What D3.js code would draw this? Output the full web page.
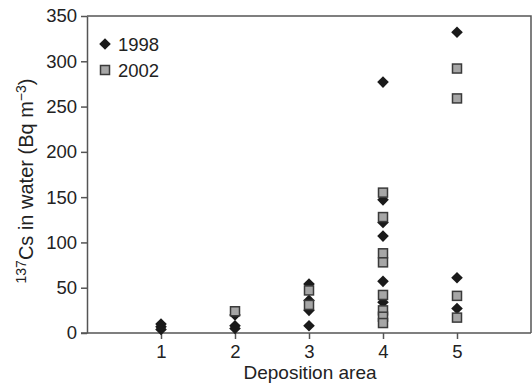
<!DOCTYPE html>
<html>
<head>
<meta charset="utf-8">
<script src="https://cdn.jsdelivr.net/npm/d3@7"></script>
<style>
  body { margin: 0; background: #fff; }
  svg text { font-family: "Liberation Sans", Arial, sans-serif; fill: #222; }
</style>
</head>
<body>
<svg id="graphsvg" width="532" height="387"></svg>
<script>
// area, value pairs
var areas = [1, 2, 3, 4, 5];
var series = ["1998", "2002"];
var area1998 = [1, 1, 1, 2, 2, 2, 3, 3, 3, 3, 4, 4, 4, 4, 4, 4, 5, 5, 5];
var val1998 = [10, 7, 4, 20, 8, 5, 54, 36, 25, 8, 277, 147, 122, 107, 57, 34, 332, 61, 27];
var area2002 = [2, 3, 3, 4, 4, 4, 4, 4, 4, 4, 4, 5, 5, 5, 5];
var val2002 = [24, 47, 31, 155, 128, 88, 78, 42, 25, 18, 11, 292, 259, 41, 17];
var yTicks = [0, 50, 100, 150, 200, 250, 300, 350];

var svg = d3.select("#graphsvg"),
    margin = {top: 16, right: 1, bottom: 54, left: 87},
    width = 532 - margin.left - margin.right,
    height = 387 - margin.top - margin.bottom;

var x = d3.scaleLinear().domain([0, 6]).range([0, width]);
var y = d3.scaleLinear().domain([0, 350]).range([height, 0]);

var g = svg.append("g")
    .attr("transform", "translate(" + margin.left + "," + margin.top + ")");

var axisColor = "#555";

// frame top + right
g.append("path")
    .attr("d", "M0,0H" + width + "V" + height)
    .attr("fill", "none")
    .attr("stroke", axisColor)
    .attr("stroke-width", 1.5);

var xAxis = g.append("g")
    .attr("transform", "translate(0," + height + ")")
    .call(d3.axisBottom(x).tickValues(areas).tickFormat(d3.format("d"))
      .tickSize(6).tickSizeOuter(0).tickPadding(6));

var yAxis = g.append("g")
    .call(d3.axisLeft(y).tickValues(yTicks).tickSize(6).tickSizeOuter(0).tickPadding(4));

[xAxis, yAxis].forEach(function(a) {
  a.select(".domain").attr("stroke", axisColor).attr("stroke-width", 1.5);
  a.selectAll(".tick line").attr("stroke", axisColor).attr("stroke-width", 1.5);
  a.selectAll(".tick text").attr("font-size", 18.5).attr("fill", "#222")
    .style("font-family", "'Liberation Sans', Arial, sans-serif");
});
// x axis line reaches past the y axis like the tick
xAxis.select(".domain").attr("d", "M-6,0H" + width);

var d1998 = area1998.map(function(a, i) { return {area: a, value: val1998[i]}; });
var d2002 = area2002.map(function(a, i) { return {area: a, value: val2002[i]}; });

var diamond = "M0,-5.8L5.8,0L0,5.8L-5.8,0Z";

g.selectAll(".d98")
    .data(d1998)
  .enter().append("path")
    .attr("class", "d98")
    .attr("d", diamond)
    .attr("transform", function(d) { return "translate(" + x(d.area) + "," + y(d.value) + ")"; })
    .attr("fill", "#1a1a1a");

g.selectAll(".s02")
    .data(d2002)
  .enter().append("rect")
    .attr("class", "s02")
    .attr("x", function(d) { return x(d.area) - 4.5; })
    .attr("y", function(d) { return y(d.value) - 4.5; })
    .attr("width", 9)
    .attr("height", 9)
    .attr("fill", "#a6a6a6")
    .attr("stroke", "#3a3a3a")
    .attr("stroke-width", 1.5);

// legend
var legend = g.append("g").attr("transform", "translate(18,28)");
legend.append("path").attr("d", diamond).attr("fill", "#1a1a1a");
legend.append("text").attr("x", 13).attr("y", 6.5).attr("font-size", 18.5).text(series[0]);
legend.append("rect").attr("x", -4.5).attr("y", 21.5).attr("width", 9).attr("height", 9)
    .attr("fill", "#a6a6a6").attr("stroke", "#3a3a3a").attr("stroke-width", 1.5);
legend.append("text").attr("x", 13).attr("y", 32.5).attr("font-size", 18.5).text(series[1]);

// axis titles
svg.append("text")
    .attr("text-anchor", "middle")
    .attr("x", 310)
    .attr("y", 379)
    .attr("font-size", 19)
    .text("Deposition area");

var yt = svg.append("text")
    .attr("text-anchor", "middle")
    .attr("transform", "translate(33,181) rotate(-90)")
    .attr("font-size", 20);
yt.append("tspan").attr("font-size", 14).attr("dy", -7).text("137");
yt.append("tspan").attr("dy", 7).text("Cs in water (Bq m");
yt.append("tspan").attr("font-size", 14).attr("dy", -7).text("\u22123");
yt.append("tspan").attr("dy", 7).text(")");
</script>
</body>
</html>
